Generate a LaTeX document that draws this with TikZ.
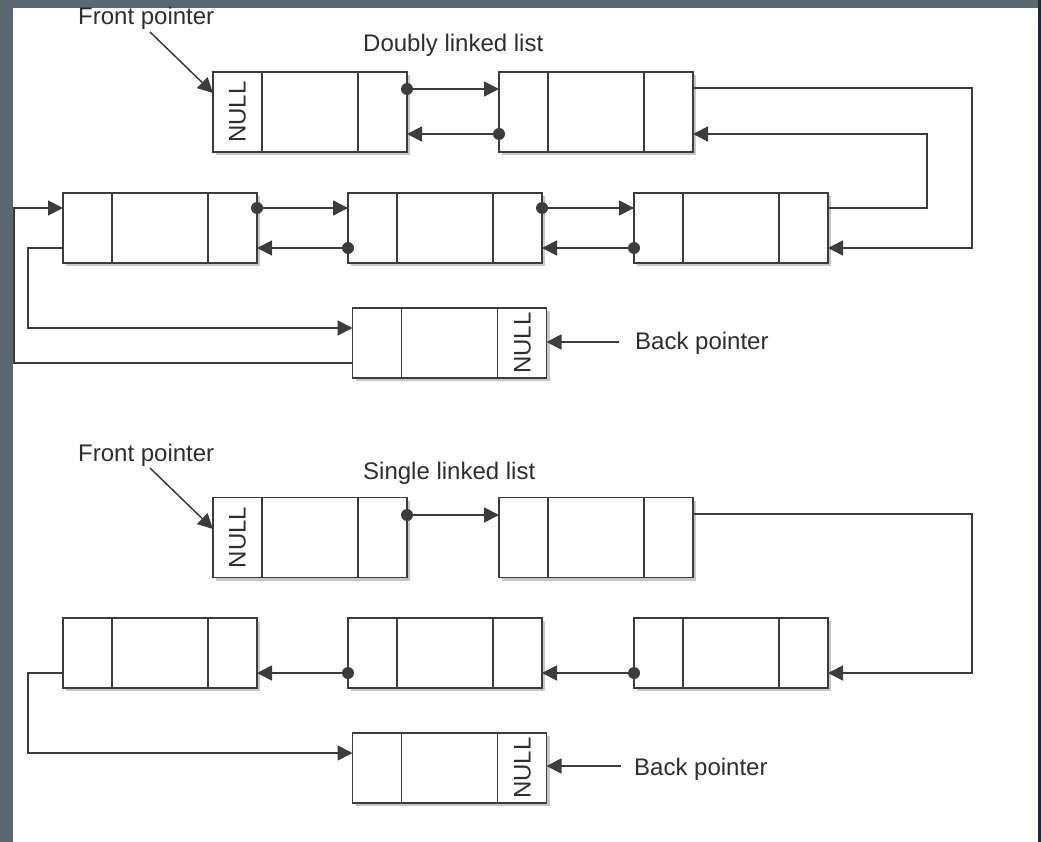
\documentclass[tikz,border=0pt]{standalone}
\usepackage{fontspec}
\setmainfont{Liberation Sans}
\usetikzlibrary{arrows.meta,shadows}
\definecolor{slate}{HTML}{5A6670}
\definecolor{navy}{HTML}{1E2B36}
\definecolor{ink}{HTML}{3C3C3C}
\definecolor{txt}{HTML}{2E2E2E}
\begin{document}
\begin{tikzpicture}[x=1pt,y=-1pt,
  cell/.style={draw=ink, line width=1.8pt, fill=white, minimum width=194pt, minimum height=#1,
    inner sep=0pt, outer sep=0pt,
    drop shadow={shadow xshift=3pt, shadow yshift=-3pt, fill=black!22, opacity=1}},
  conn/.style={draw=ink, line width=1.8pt, -{Triangle[length=15pt,width=15pt]}},
  plain/.style={draw=ink, line width=1.6pt},
  lbl/.style={font=\fontsize{24}{28}\selectfont, text=txt, anchor=base west, inner sep=0pt},
  nulltxt/.style={font=\fontsize{24}{28}\selectfont, text=txt, rotate=90, inner sep=0pt},
  dotc/.style={fill=ink}
]
\useasboundingbox (0,0) rectangle (1041,842);
\fill[slate] (0,0) rectangle (1041,842);
\fill[white] (13,8) rectangle (1038,842);
\fill[navy] (1038,0) rectangle (1041,842);

% ---------- doubly linked list ----------
\node[cell=80pt] (A) at (310,112) {};
\node[cell=80pt] (B) at (596,112) {};
\node[cell=70pt] (C) at (160,228) {};
\node[cell=70pt] (D) at (445,228) {};
\node[cell=70pt] (E) at (731,228) {};
\node[cell=70pt] (F) at (449.5,343) {};

% ---------- single linked list ----------
\node[cell=80pt] (A2) at (310,537.5) {};
\node[cell=80pt] (B2) at (596,537.5) {};
\node[cell=70pt] (C2) at (160,653) {};
\node[cell=70pt] (D2) at (445,653) {};
\node[cell=70pt] (E2) at (731,653) {};
\node[cell=70pt] (F2) at (449.5,768) {};

\foreach \n in {A,B,C,D,E,F,A2,B2,C2,D2,E2,F2} {
  \draw[plain] ([xshift=49pt]\n.north west) -- ([xshift=49pt]\n.south west);
  \draw[plain] ([xshift=-49pt]\n.north east) -- ([xshift=-49pt]\n.south east);
}

\node[nulltxt] (nA) at (237.5,112) {NULL};
\node[nulltxt] (nF) at (522.5,343) {NULL};
\node[nulltxt] (nA2) at (237.5,537.5) {NULL};
\node[nulltxt] (nF2) at (522.5,768) {NULL};

% labels
\node[lbl] (fpt1) at (78,25) {Front pointer};
\node[lbl] (dll) at (363,52) {Doubly linked list};
\node[lbl] (bpt1) at (635,349) {Back pointer};
\node[lbl] (fpt2) at (78,461) {Front pointer};
\node[lbl] (sll) at (363,479) {Single linked list};
\node[lbl] (bpt2) at (634,775) {Back pointer};

% free ends
\coordinate (fp1) at (150,32);
\coordinate (bp1) at (619,342);
\coordinate (fp2) at (150,468);
\coordinate (bp2) at (621,766);

% ----- doubly connectors -----
\draw[conn, line width=1.5pt] (fp1) -- ([yshift=19pt]A.west);
\draw[conn] (bp1) -- (bp1 -| F.east);

\draw[conn] ([yshift=23pt]A.east) -- ([yshift=23pt]B.west);
\draw[conn] ([yshift=-22pt]B.west) -- ([yshift=-22pt]A.east);
\draw[conn] ([yshift=20pt]C.east) -- ([yshift=20pt]D.west);
\draw[conn] ([yshift=-20pt]D.west) -- ([yshift=-20pt]C.east);
\draw[conn] ([yshift=20pt]D.east) -- ([yshift=20pt]E.west);
\draw[conn] ([yshift=-20pt]E.west) -- ([yshift=-20pt]D.east);

\draw[conn] ([yshift=24pt]B.east) -- ++(279,0) |- ([yshift=-20pt]E.east);
\draw[conn] ([yshift=20pt]E.east) -- ++(99,0) |- ([yshift=-22pt]B.east);
\draw[conn] ([yshift=-20pt]F.west) -- ++(-338.5,0) |- ([yshift=20pt]C.west);
\draw[conn] ([yshift=-20pt]C.west) -- ++(-35,0) |- ([yshift=15pt]F.west);

\fill[dotc] ([yshift=23pt]A.east) circle (6pt);
\fill[dotc] ([yshift=-22pt]B.west) circle (6pt);
\fill[dotc] ([yshift=20pt]C.east) circle (6pt);
\fill[dotc] ([yshift=-20pt]D.west) circle (6pt);
\fill[dotc] ([yshift=20pt]D.east) circle (6pt);
\fill[dotc] ([yshift=-20pt]E.west) circle (6pt);

% ----- single connectors -----
\draw[conn, line width=1.5pt] (fp2) -- ([yshift=8.5pt]A2.west);
\draw[conn] (bp2) -- (bp2 -| F2.east);

\draw[conn] ([yshift=22.5pt]A2.east) -- ([yshift=22.5pt]B2.west);
\draw[conn] ([yshift=23.5pt]B2.east) -- ++(279,0) |- ([yshift=-20pt]E2.east);
\draw[conn] ([yshift=-20pt]E2.west) -- ([yshift=-20pt]D2.east);
\draw[conn] ([yshift=-20pt]D2.west) -- ([yshift=-20pt]C2.east);
\draw[conn] ([yshift=-20pt]C2.west) -- ++(-35,0) |- ([yshift=15pt]F2.west);

\fill[dotc] ([yshift=22.5pt]A2.east) circle (6pt);
\fill[dotc] ([yshift=-20pt]E2.west) circle (6pt);
\fill[dotc] ([yshift=-20pt]D2.west) circle (6pt);
\end{tikzpicture}
\end{document}
